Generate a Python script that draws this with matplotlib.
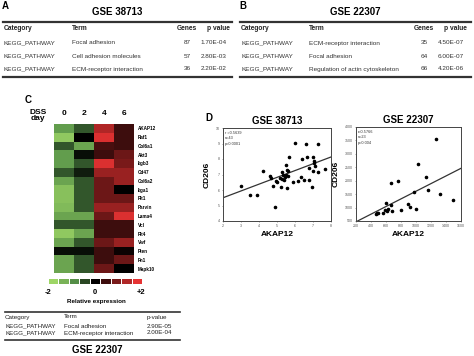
import numpy as np
import matplotlib
matplotlib.use('Agg')
import matplotlib.pyplot as plt
from matplotlib.colors import LinearSegmentedColormap
from matplotlib.lines import Line2D

plt.rcParams['font.family'] = ['Liberation Sans', 'DejaVu Sans']

W, H = 474, 356

# ---- data ----
a_terms = ['Focal adhesion', 'Cell adhesion molecules', 'ECM-receptor interaction']
a_genes = [87, 57, 36]
a_pvals = ['1.70E-04', '2.80E-03', '2.20E-02']

b_terms = ['ECM-receptor interaction', 'Focal adhesion', 'Regulation of actin cytoskeleton']
b_genes = [35, 64, 66]
b_pvals = ['4.50E-07', '6.00E-07', '4.20E-06']

c_terms = ['Focal adhesion', 'ECM-receptor interaction']
c_pvals = ['2.90E-05', '2.00E-04']

days = ['0', '2', '4', '6']
genes = ['AKAP12', 'Raf1', 'Col6a1', 'Akt3', 'Itgb3', 'Cd47', 'Col6a2', 'Itga1',
         'Flt1', 'Parvin', 'Lama4', 'Vcl', 'Flt4', 'Vwf', 'Pten', 'Fn1', 'Mapk10']
expr = [
    [-1.2, -0.6, 1.5, 0.5],
    [-1.8, 0.0, 1.9, 0.5],
    [-0.6, -1.3, 0.6, 0.5],
    [-1.2, -0.1, 0.5, 0.9],
    [-1.2, -0.6, 1.9, 1.0],
    [-0.6, -0.2, 1.3, 1.3],
    [-1.3, -0.6, 0.9, 1.3],
    [-1.7, -0.6, 0.9, 0.0],
    [-1.7, -0.6, 0.9, 0.9],
    [-1.6, -0.6, 1.3, 1.3],
    [-1.3, -1.3, 0.9, 1.9],
    [-0.6, -0.6, 0.5, 0.5],
    [-1.8, -1.3, 0.5, 0.5],
    [-1.3, -0.6, 0.9, 1.3],
    [-0.1, -0.1, 0.5, 0.1],
    [-1.3, -0.6, 0.5, 0.9],
    [-1.3, -0.6, 0.9, 0.0],
]
scale_steps = [-2, -1.5, -1, -0.5, 0, 0.5, 1, 1.5, 2]

# GSE 38713 scatter
akap_38713 = [3.0, 3.5, 3.87, 4.24, 4.65, 4.8, 4.94, 4.98, 4.9, 5.17, 5.2, 5.3, 5.35,
              5.4, 5.45, 5.48, 5.54, 5.54, 5.63, 5.67, 6.0, 5.9, 6.15, 6.32, 6.37,
              6.5, 6.6, 6.65, 6.76, 6.93, 7.02, 7.06, 7.07, 7.1, 7.0, 7.3, 7.3, 7.67,
              5.5, 5.6, 6.8, 5.25, 4.6]
cd206_38713 = [6.26, 5.7, 5.7, 7.2, 6.8, 6.26, 6.6, 6.5, 4.9, 6.75, 6.2, 7.16, 6.95,
               6.65, 6.86, 7.6, 7.3, 6.1, 7.2, 8.1, 9.05, 6.5, 6.6, 6.86, 8.0,
               6.65, 9.0, 8.1, 6.65, 6.2, 8.1, 7.9, 7.76, 7.55, 7.2, 8.97, 7.16, 7.33,
               7.0, 6.9, 7.4, 6.7, 6.9]
fit_38713 = [5.5, 8.13]   # line values at x = 2 and x = 8

# GSE 22307 scatter
akap_22307 = [1267, 1031, 1129, 1156, 756, 667, 978, 1320, 1489, 600, 898, 920, 663,
              631, 609, 587, 564, 676, 796, 1000, 476, 463, 489]
cd206_22307 = [3565, 2622, 2150, 1654, 1978, 1904, 1591, 1505, 1282, 1181, 1133, 1033,
               1096, 936, 872, 910, 809, 872, 910, 936, 787, 761, 787]
fit_22307 = [470, 2462]   # line values at x = 200 and x = 1600


def fx(x):
    return x / W


def fy(y):
    return 1 - y / H


fig = plt.figure(figsize=(W / 100, H / 100), dpi=100)


def txt(x, y, s, **kw):
    kw.setdefault('va', 'center')
    fig.text(fx(x), fy(y), s, **kw)


def hline(x0, x1, y, lw):
    fig.add_artist(Line2D([fx(x0), fx(x1)], [fy(y), fy(y)], color='#333333', lw=lw))


# ---- panel A / B tables ----
def kegg_table(x0, x1, label, title, terms, ngenes, pvals):
    txt(x0 - 1, 6, label, fontsize=7, fontweight='bold')
    txt((x0 + x1) / 2, 12, title, fontsize=7, fontweight='bold', ha='center')
    hline(x0, x1, 22, 1.6)
    hl = dict(fontsize=4.8, fontweight='bold', color='#222222')
    txt(x0 + 1, 29, 'Category', **hl)
    txt(x0 + 69, 29, 'Term', **hl)
    txt(x0 + 174, 29, 'Genes', **hl)
    txt(x0 + 204, 29, 'p value', **hl)
    rows_y = [43, 56, 69]
    rl = dict(fontsize=4.6, color='#333333')
    for yy, t, g, p in zip(rows_y, terms, ngenes, pvals):
        txt(x0 + 1, yy, 'KEGG_PATHWAY', **rl)
        txt(x0 + 69, yy, t, **rl)
        txt(x0 + 184, yy, str(g), ha='center', **rl)
        txt(x0 + 224, yy, p, ha='right', **rl)
    hline(x0, x1, 77, 1.6)


kegg_table(3, 232, 'A', 'GSE 38713', a_terms, a_genes, a_pvals)
kegg_table(240, 471, 'B', 'GSE 22307', b_terms, b_genes, b_pvals)

# ---- panel C heatmap ----
txt(25, 100, 'C', fontsize=7, fontweight='bold')
txt(38, 112, 'DSS', fontsize=6, fontweight='bold', ha='center')
txt(38, 118, 'day', fontsize=6, fontweight='bold', ha='center')

cmap = LinearSegmentedColormap.from_list('gkr', [
    (0.0, (0.62, 0.84, 0.40)),
    (0.25, (0.33, 0.56, 0.28)),
    (0.5, (0.0, 0.0, 0.0)),
    (0.75, (0.47, 0.10, 0.10)),
    (1.0, (0.90, 0.20, 0.20)),
])

axh = fig.add_axes([fx(54), fy(273), 80 / W, 149 / H])
axh.imshow(np.array(expr), cmap=cmap, vmin=-2, vmax=2, aspect='auto',
           interpolation='nearest')
axh.set_xticks(range(len(days)))
axh.set_xticklabels(days, fontsize=6, fontweight='bold')
axh.xaxis.tick_top()
axh.tick_params(axis='x', length=0, pad=5)
axh.set_yticks(range(len(genes)))
axh.set_yticklabels(genes, fontsize=3.3, fontweight='bold')
axh.yaxis.tick_right()
axh.tick_params(axis='y', length=0, pad=3)
for s in axh.spines.values():
    s.set_visible(False)

axs = fig.add_axes([fx(48), fy(284), 95 / W, 5 / H])
axs.bar(range(len(scale_steps)), [1] * len(scale_steps), width=0.9,
        color=cmap((np.array(scale_steps) + 2) / 4))
axs.set_xlim(-0.5, len(scale_steps) - 0.5)
axs.set_ylim(0, 1)
axs.axis('off')
txt(48, 292, '-2', fontsize=5.5, fontweight='bold', ha='center')
txt(95, 292, '0', fontsize=5.5, fontweight='bold', ha='center')
txt(141, 292, '+2', fontsize=5.5, fontweight='bold', ha='center')
txt(96, 302, 'Relative expression', fontsize=4.5, fontweight='bold', ha='center')

# bottom table
cl = dict(fontsize=4.5, color='#222222')
hline(5, 180, 312, 1.2)
txt(5, 317, 'Category', **cl)
txt(64, 317, 'Term', **cl)
txt(147, 317, 'p-value', **cl)
for yy, t, p in zip([326, 333], c_terms, c_pvals):
    txt(5, yy, 'KEGG_PATHWAY', **cl)
    txt(64, yy, t, **cl)
    txt(147, yy, p, **cl)
hline(5, 180, 340, 1.2)
txt(97, 350, 'GSE 22307', fontsize=7, fontweight='bold', ha='center')

# ---- panel D scatters ----
txt(205, 118, 'D', fontsize=7, fontweight='bold')


def scatter_panel(box, x, y, xlim, ylim, xticks, yticks, fit, title, stats):
    left, right, top, bottom = box
    ax = fig.add_axes([fx(left), fy(bottom), (right - left) / W, (bottom - top) / H])
    ax.scatter(x, y, s=2.5, color='black', zorder=3)
    ax.plot(xlim, fit, color='#333333', lw=0.9)
    ax.set_xlim(xlim)
    ax.set_ylim(ylim)
    ax.set_xticks(xticks)
    ax.set_yticks(yticks)
    ax.tick_params(labelsize=2.6, length=1, width=0.4, pad=1, colors='#555555')
    for s in ax.spines.values():
        s.set_linewidth(0.7)
        s.set_color('#444444')
    ax.set_title(title, fontsize=7, fontweight='bold', pad=3)
    ax.set_xlabel('AKAP12', fontsize=6, fontweight='bold', labelpad=2)
    ax.set_ylabel('CD206', fontsize=6, fontweight='bold', labelpad=4)
    ax.text(0.02, 0.97, stats, transform=ax.transAxes, fontsize=2.8, va='top',
            linespacing=1.5, color='#333333')
    return ax


scatter_panel((223, 331, 128, 221), akap_38713, cd206_38713, [2, 8], [4, 10],
              range(2, 9), range(4, 11), fit_38713, 'GSE 38713',
              'r =0.5639\nn=43\np<0.0001')
scatter_panel((356, 461, 127, 221), akap_22307, cd206_22307, [200, 1600], [500, 4000],
              range(200, 1601, 200), range(500, 4001, 500), fit_22307, 'GSE 22307',
              'r=0.5766\nn=23\np=0.004')

fig.savefig('out.png', dpi=100)
